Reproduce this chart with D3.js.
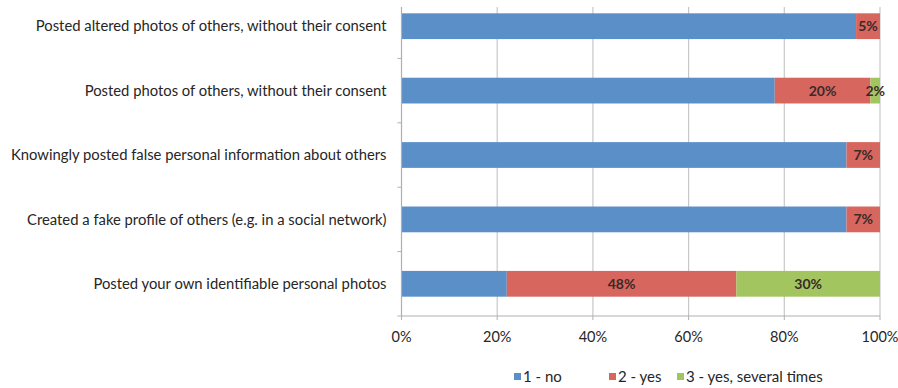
<!DOCTYPE html>
<html>
<head>
<meta charset="utf-8">
<script src="https://cdn.jsdelivr.net/npm/d3@7"></script>
<style>
  body { margin: 0; background: #fff; }
  text { font-family: Lato, "Open Sans", sans-serif; fill: #262626; }
</style>
</head>
<body>
<svg id="chart"></svg>
<script>
const categories = [
  "Posted altered photos of others, without their consent",
  "Posted photos of others, without their consent",
  "Knowingly posted false personal information about others",
  "Created a fake profile of others (e.g. in a social network)",
  "Posted your own identifiable personal photos"
];
const seriesNames = ["1 - no", "2 - yes", "3 - yes, several times"];
const noValues = [95, 78, 93, 93, 22];
const yesValues = [5, 20, 7, 7, 48];
const severalValues = [0, 2, 0, 0, 30];
const xTicks = [0, 20, 40, 60, 80, 100];
const colors = ["#5a8fc8", "#d7665e", "#a2c560"];

const width = 898, height = 388;
const left = 401.5, right = 880, bottom = 316, gridTop = 7;

const svg = d3.select("#chart").attr("width", width).attr("height", height);

const rows = categories.map((c, i) => ({
  cat: c, s0: noValues[i], s1: yesValues[i], s2: severalValues[i]
}));
const stack = d3.stack().keys(["s0", "s1", "s2"])(rows);

const x = d3.scaleLinear().domain([0, 100]).range([left, right]);
const y = d3.scaleBand().domain(categories).range([bottom - 64.4 * 5, bottom]).paddingInner(0.6).paddingOuter(0.3);

// gridlines
svg.append("g")
  .selectAll("line")
  .data(xTicks.filter(d => d > 0))
  .enter().append("line")
  .attr("x1", d => x(d)).attr("x2", d => x(d))
  .attr("y1", gridTop).attr("y2", bottom)
  .attr("stroke", "#c8c8c8").attr("stroke-width", 1.2);

// bars
stack.forEach((layer, k) => {
  svg.append("g")
    .selectAll("rect")
    .data(layer)
    .enter().append("rect")
    .attr("x", d => x(d[0]))
    .attr("y", d => y(d.data.cat))
    .attr("width", d => x(d[1]) - x(d[0]))
    .attr("height", y.bandwidth())
    .attr("fill", colors[k]);

  if (k > 0) {
    svg.append("g")
      .selectAll("text")
      .data(layer.filter(d => d[1] - d[0] > 0))
      .enter().append("text")
      .attr("x", d => x((d[0] + d[1]) / 2))
      .attr("y", d => y(d.data.cat) + y.bandwidth() / 2)
      .attr("dy", "0.35em")
      .attr("text-anchor", "middle")
      .style("font-size", "14px")
      .style("font-weight", "bold")
      .style("fill", "#3a2a2a")
      .text(d => (d[1] - d[0]) + "%");
  }
});

// y axis line and ticks between categories
svg.append("line")
  .attr("x1", left).attr("x2", left).attr("y1", gridTop).attr("y2", bottom)
  .attr("stroke", "#b0b0b0").attr("stroke-width", 1.2);
const step = y.step();
svg.append("g")
  .selectAll("line")
  .data(categories)
  .enter().append("line")
  .attr("x1", left - 4).attr("x2", left)
  .attr("y1", d => y(d) + y.bandwidth() + (step - y.bandwidth()) / 2)
  .attr("y2", d => y(d) + y.bandwidth() + (step - y.bandwidth()) / 2)
  .attr("stroke", "#b0b0b0");

// x axis line + ticks
svg.append("line")
  .attr("x1", left).attr("x2", right).attr("y1", bottom).attr("y2", bottom)
  .attr("stroke", "#b0b0b0").attr("stroke-width", 1.2);
svg.append("g")
  .selectAll("line")
  .data(xTicks)
  .enter().append("line")
  .attr("x1", d => x(d)).attr("x2", d => x(d))
  .attr("y1", bottom).attr("y2", bottom + 4)
  .attr("stroke", "#b0b0b0");
svg.append("g")
  .selectAll("text")
  .data(xTicks)
  .enter().append("text")
  .attr("x", d => x(d))
  .attr("y", bottom + 21)
  .attr("dy", "0.35em")
  .attr("text-anchor", "middle")
  .style("font-size", "14.5px")
  .text(d => d + "%");

// category labels
svg.append("g")
  .selectAll("text")
  .data(categories)
  .enter().append("text")
  .attr("x", left - 15)
  .attr("y", d => y(d) + y.bandwidth() / 2)
  .attr("dy", "0.35em")
  .attr("text-anchor", "end")
  .style("font-size", "14.8px")
  .text(d => d);

// legend
const legendX = [514, 609, 677];
const legend = svg.append("g").attr("transform", "translate(0,377)");
seriesNames.forEach((name, i) => {
  const g = legend.append("g").attr("transform", `translate(${legendX[i]},0)`);
  g.append("rect").attr("x", 0).attr("y", -4).attr("width", 7).attr("height", 7).attr("fill", colors[i]);
  g.append("text").attr("x", 9).attr("dy", "0.35em").style("font-size", "15px").text(name);
});
</script>
</body>
</html>
